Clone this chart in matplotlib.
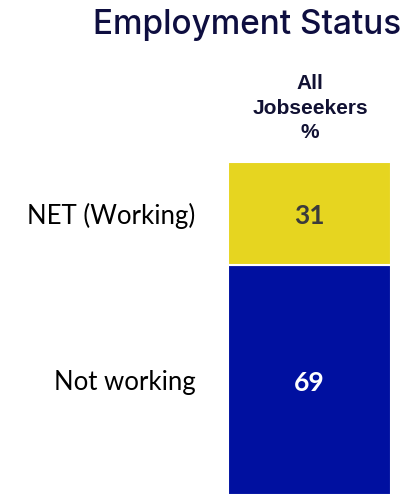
import matplotlib.pyplot as plt
import matplotlib.transforms as mtransforms

# data
categories = ['Not working', 'NET (Working)']
values = [69, 31]
colors = ['#0010a0', '#e6d520']
value_colors = ['white', '#3b3b3b']

W, H = 406, 495
fig = plt.figure(figsize=(W / 100, H / 100), dpi=100)
fig.patch.set_facecolor('white')

ax = fig.add_axes([228 / W, 0, (391 - 228) / W, 1 - 162 / H])

bottom = 0
for cat, val, col, vcol in zip(categories, values, colors, value_colors):
    ax.bar(0, val, bottom=bottom, width=1, color=col, edgecolor='white', linewidth=1.5)
    mid = bottom + val / 2
    ax.text(0, mid - 0.8, f'{val}', ha='center', va='center', color=vcol,
            fontsize=19, fontweight='bold', family=['Lato', 'DejaVu Sans'])
    trans = mtransforms.blended_transform_factory(ax.transAxes, ax.transData)
    ax.text(-0.2, mid - 0.8, cat, ha='right', va='center', transform=trans,
            fontsize=18.5, color='black', family=['Lato', 'DejaVu Sans'])
    bottom += val

ax.set_xlim(-0.5, 0.5)
ax.set_ylim(0, 100)
ax.axis('off')

# header
fig.text(310 / W, 1 - 108 / H, 'All\nJobseekers\n%', ha='center', va='center',
         fontsize=15, fontweight='bold', color='#111133', linespacing=1.35,
         family=['Liberation Sans', 'DejaVu Sans'])

# title
fig.text(247 / W, 1 - 25 / H, 'Employment Status', ha='center', va='center',
         fontsize=24, fontweight='medium', color='#0e0e40',
         family=['Inter', 'DejaVu Sans'])

fig.savefig('out.png', dpi=100)
